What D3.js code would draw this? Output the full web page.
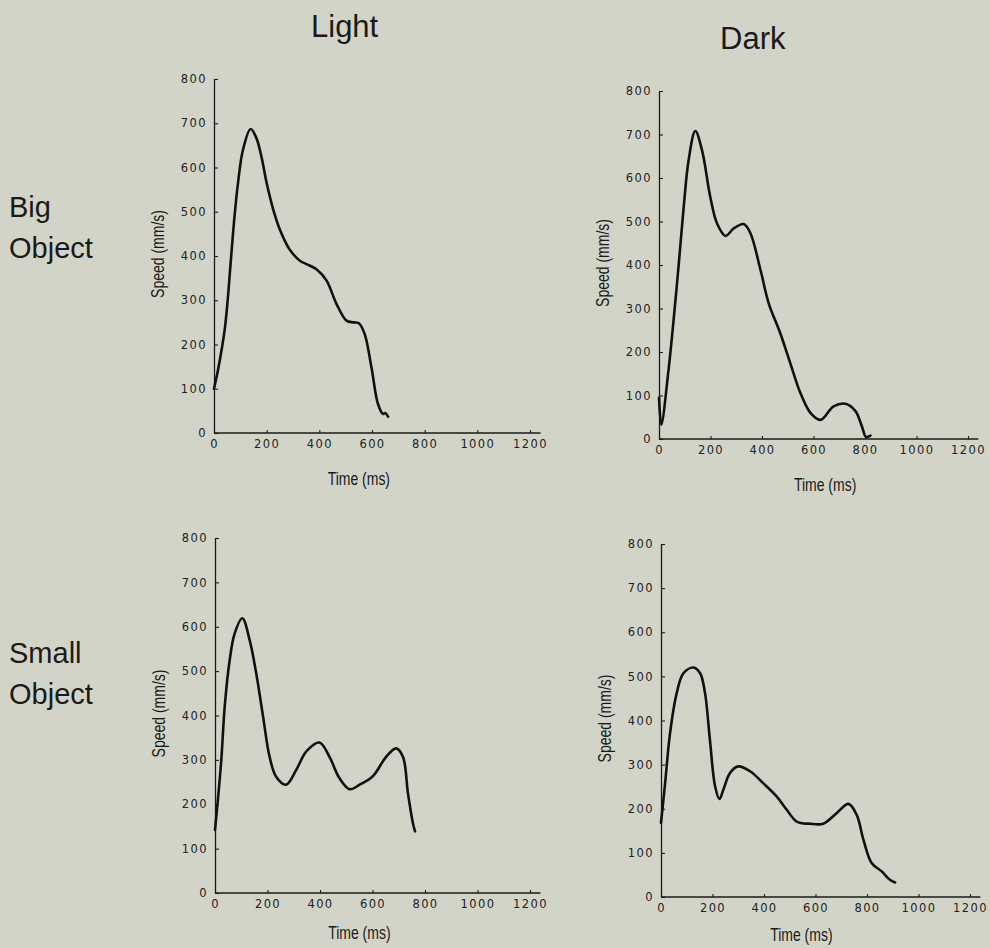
<!DOCTYPE html>
<html>
<head>
<meta charset="utf-8">
<script src="https://cdn.jsdelivr.net/npm/d3@7"></script>
<style>
  html, body { margin: 0; padding: 0; background: #d3d4c8; }
  svg { display: block; }
</style>
</head>
<body>
<svg id="chart" width="990" height="948"></svg>
<script>
// ---------------- data ----------------
const columnTitles = ["Light", "Dark"];
const rowTitles = [["Big", "Object"], ["Small", "Object"]];
const timeTicks = [0, 200, 400, 600, 800, 1000, 1200];
const speedTicks = [0, 100, 200, 300, 400, 500, 600, 700, 800];
const xLabel = "Time (ms)";
const yLabel = "Speed (mm/s)";

// Big object, light
const bigLightTime  = [0, 15, 30, 42, 52, 60, 68, 78, 91, 110, 139, 160, 180, 200, 225, 250, 287, 325, 365, 389, 427, 465, 503, 530, 550, 572, 598, 623, 642, 650, 661];
const bigLightSpeed = [100, 142, 192, 240, 300, 360, 420, 490, 564, 640, 687, 668, 625, 565, 505, 460, 415, 390, 378, 370, 345, 292, 254, 250, 248, 224, 148, 65, 43, 45, 37];

// Big object, dark
const bigDarkTime  = [0, 9, 37, 70, 96, 115, 141, 167, 199, 225, 258, 290, 329, 355, 394, 426, 471, 510, 549, 588, 627, 678, 724, 763, 788, 804, 821];
const bigDarkSpeed = [95, 33, 159, 358, 534, 641, 708, 664, 557, 496, 467, 484, 494, 473, 389, 312, 243, 174, 106, 60, 44, 75, 81, 64, 29, 5, 8];

// Small object, light
const smallLightTime  = [0, 11, 24, 37, 56, 75, 104, 132, 157, 183, 208, 233, 271, 310, 348, 398, 436, 474, 513, 551, 601, 652, 690, 716, 735, 754, 762];
const smallLightSpeed = [142, 210, 300, 420, 525, 585, 619, 570, 495, 398, 307, 262, 244, 278, 319, 339, 307, 259, 234, 244, 263, 307, 326, 307, 225, 157, 139];

// Small object, dark
const smallDarkTime  = [0, 16, 35, 61, 87, 126, 152, 171, 190, 210, 227, 242, 268, 300, 346, 397, 449, 488, 527, 579, 630, 682, 728, 760, 786, 818, 857, 889, 909];
const smallDarkSpeed = [168, 258, 371, 462, 507, 520, 507, 462, 356, 251, 222, 243, 281, 296, 285, 258, 228, 198, 171, 166, 166, 190, 211, 186, 130, 77, 58, 39, 33];

// ---------------- layout ----------------
const panels = [
  { time: bigLightTime,   speed: bigLightSpeed,   x0: 214, w: 316, y0: 433, yTop: 79,  xLab: 550, xLabDy: 52 },
  { time: bigDarkTime,    speed: bigDarkSpeed,    x0: 659, w: 309, y0: 439, yTop: 91,  xLab: 645, xLabDy: 52 },
  { time: smallLightTime, speed: smallLightSpeed, x0: 215, w: 315, y0: 893, yTop: 538, xLab: 550, xLabDy: 46 },
  { time: smallDarkTime,  speed: smallDarkSpeed,  x0: 661, w: 309, y0: 897, yTop: 544, xLab: 545, xLabDy: 44 }
];

const svg = d3.select("#chart");
svg.append("rect").attr("width", 990).attr("height", 948).attr("fill", "#d3d4c8");

const ink = "#1a1a1a";
const labelFont = "'Liberation Sans', Arial, Helvetica, sans-serif";
const tickFont = "'DejaVu Sans', Verdana, sans-serif";

// column titles
const titlePos = [{ x: 311, y: 37 }, { x: 720, y: 49 }];
columnTitles.forEach((t, i) => {
  svg.append("text")
    .attr("x", titlePos[i].x).attr("y", titlePos[i].y)
    .attr("font-family", labelFont).attr("font-size", 31)
    .attr("fill", ink).text(t);
});

// row titles
const rowPos = [[217, 258], [663, 704]];
rowTitles.forEach((lines, r) => {
  lines.forEach((l, j) => {
    svg.append("text")
      .attr("x", 9).attr("y", rowPos[r][j])
      .attr("font-family", labelFont).attr("font-size", 29)
      .attr("fill", ink).text(l);
  });
});

panels.forEach(p => {
  const x = d3.scaleLinear().domain([0, 1200]).range([p.x0, p.x0 + p.w]);
  const y = d3.scaleLinear().domain([0, 800]).range([p.y0, p.yTop]);

  // x axis
  const gx = svg.append("g").attr("transform", `translate(0,${p.y0})`)
    .call(d3.axisBottom(x).tickValues(timeTicks).tickFormat(d3.format("d"))
      .tickSize(-3).tickSizeOuter(0).tickPadding(7));
  gx.select(".domain").remove();
  gx.append("line")
    .attr("x1", x(0)).attr("x2", x(1240))
    .attr("y1", 0).attr("y2", 0)
    .attr("stroke", ink).attr("stroke-width", 1.3);
  gx.selectAll(".tick line").attr("stroke", ink).attr("stroke-width", 1.1);
  gx.selectAll(".tick text")
    .attr("font-family", tickFont).attr("font-size", 11.5)
    .attr("letter-spacing", "1.4px")
    .attr("fill", "#222");

  // y axis
  const gy = svg.append("g").attr("transform", `translate(${p.x0},0)`)
    .call(d3.axisLeft(y).tickValues(speedTicks).tickFormat(d3.format("d"))
      .tickSize(-4).tickSizeOuter(0).tickPadding(7));
  gy.select(".domain").attr("stroke", ink).attr("stroke-width", 1.3);
  gy.selectAll(".tick line").attr("stroke", ink).attr("stroke-width", 1.1);
  gy.selectAll(".tick text")
    .attr("font-family", tickFont).attr("font-size", 11.5)
    .attr("letter-spacing", "1.4px")
    .attr("fill", "#222");

  // axis titles (condensed by horizontal scaling)
  svg.append("text")
    .attr("transform", `translate(${x(p.xLab)},${p.y0 + p.xLabDy}) scale(0.8,1)`)
    .attr("text-anchor", "middle")
    .attr("font-family", labelFont).attr("font-size", 17.5)
    .attr("fill", ink).text(xLabel);
  svg.append("text")
    .attr("transform", `translate(${p.x0 - 50},${y(400) - 2}) rotate(-90) scale(0.8,1)`)
    .attr("text-anchor", "middle")
    .attr("font-family", labelFont).attr("font-size", 17.5)
    .attr("fill", ink).text(yLabel);

  // curve
  const pts = p.time.map((t, i) => [t, p.speed[i]]);
  const line = d3.line()
    .x(d => x(d[0])).y(d => y(d[1]))
    .curve(d3.curveCatmullRom.alpha(0.5));
  svg.append("path")
    .attr("d", line(pts))
    .attr("fill", "none")
    .attr("stroke", "#111")
    .attr("stroke-width", 2.6)
    .attr("stroke-linejoin", "round")
    .attr("stroke-linecap", "round");
});
</script>
</body>
</html>
